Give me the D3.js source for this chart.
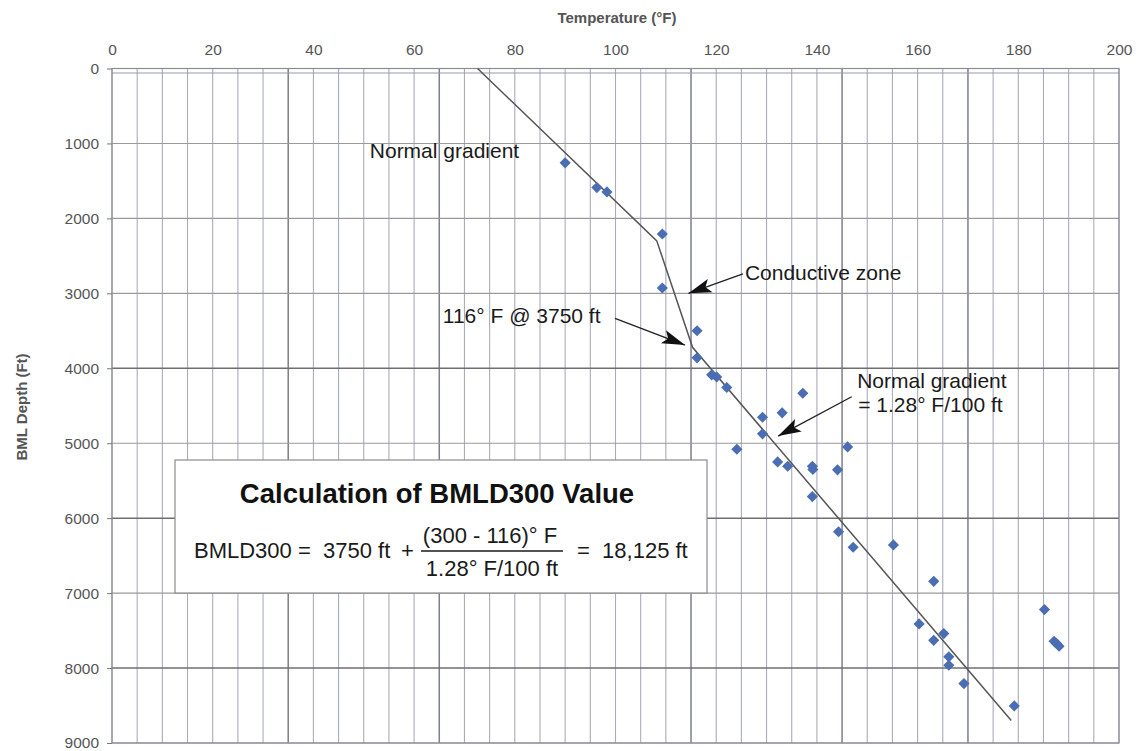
<!DOCTYPE html>
<html>
<head>
<meta charset="utf-8">
<script src="https://cdn.jsdelivr.net/npm/d3@7"></script>
<style>
  body { margin: 0; background: #fff; }
  svg { display: block; font-family: "Liberation Sans", Arial, sans-serif; }
</style>
</head>
<body>
<svg width="1139" height="751"></svg>
<script>
// measured temperatures (F) and BML depths (ft)
var temps = [90.0, 96.3, 98.3, 109.3, 109.3, 116.2, 116.2, 119.1, 120.1, 122.1,
  137.2, 129.2, 133.1, 129.2, 124.1, 146.1, 132.2, 134.2, 139.1, 139.2,
  144.1, 139.1, 144.3, 147.2, 155.2, 163.2, 185.2, 160.3, 163.2, 165.2,
  166.2, 166.2, 169.2, 179.2, 187.1, 187.6, 188.1];
var depths = [1259, 1589, 1647, 2208, 2929, 3500, 3861, 4088, 4115, 4257,
  4333, 4653, 4595, 4875, 5080, 5049, 5249, 5307, 5307, 5351,
  5355, 5712, 6182, 6388, 6357, 6843, 7220, 7411, 7630, 7540,
  7850, 7963, 8207, 8505, 7642, 7673, 7709];

// interpreted gradient line
var lineTemps = [72.6, 108.2, 115.3, 178.6];
var lineDepths = [0, 2300, 3720, 8700];

var xTicks = [0, 20, 40, 60, 80, 100, 120, 140, 160, 180, 200];
var yTicks = [0, 1000, 2000, 3000, 4000, 5000, 6000, 7000, 8000, 9000];
var heavyX = [35, 65, 115, 145, 170];
var heavyY = [4000, 6000, 8000];

var svg = d3.select("svg");

var x = d3.scaleLinear().domain([0, 200]).range([112, 1119]);
var y = d3.scaleLinear().domain([0, 9000]).range([68.5, 743]);

// grid
var grid = svg.append("g").attr("class", "grid");
grid.selectAll("line.v")
  .data(d3.range(0, 201, 5))
  .enter()
  .append("line")
  .attr("x1", d => x(d)).attr("x2", d => x(d))
  .attr("y1", y(0)).attr("y2", y(9000))
  .attr("stroke", d => heavyX.includes(d) ? "#7c7f8c" : "#a9adbb")
  .attr("stroke-width", d => heavyX.includes(d) ? 1.5 : 1.1);

grid.selectAll("line.h")
  .data(yTicks)
  .enter()
  .append("line")
  .attr("x1", x(0)).attr("x2", x(200))
  .attr("y1", d => y(d)).attr("y2", d => y(d))
  .attr("stroke", d => heavyY.includes(d) ? "#6f6f6f" : "#9a9a9a")
  .attr("stroke-width", d => heavyY.includes(d) ? 1.5 : 1.1);

// second rule just under the top edge
grid.append("line")
  .attr("x1", x(0)).attr("x2", x(200))
  .attr("y1", y(60)).attr("y2", y(60))
  .attr("stroke", "#9a9ca8").attr("stroke-width", 1.1);

grid.append("rect")
  .attr("x", x(0)).attr("y", y(0))
  .attr("width", x(200) - x(0)).attr("height", y(9000) - y(0))
  .attr("fill", "none").attr("stroke", "#8a8d99").attr("stroke-width", 1.2);

// axes
var xAxis = svg.append("g")
  .attr("transform", "translate(0," + (y(0) - 14) + ")")
  .call(d3.axisTop(x).tickValues(xTicks).tickSize(0).tickPadding(0));
xAxis.select(".domain").remove();
xAxis.selectAll("text")
  .attr("font-size", 15.5)
  .attr("font-family", "Liberation Sans, Arial, sans-serif")
  .attr("fill", "#555");

var yAxis = svg.append("g")
  .attr("transform", "translate(" + x(0) + ",0)")
  .call(d3.axisLeft(y).tickValues(yTicks).tickFormat(d3.format("d")).tickSize(5).tickPadding(8));
yAxis.select(".domain").remove();
yAxis.selectAll("line").attr("stroke", "#777");
yAxis.selectAll("text")
  .attr("font-size", 15.5)
  .attr("font-family", "Liberation Sans, Arial, sans-serif")
  .attr("fill", "#555");

svg.append("text")
  .attr("x", 617).attr("y", 23)
  .attr("text-anchor", "middle")
  .attr("font-weight", "bold")
  .attr("font-size", 15)
  .attr("fill", "#555")
  .text("Temperature (°F)");

svg.append("text")
  .attr("transform", "translate(27,407) rotate(-90)")
  .attr("text-anchor", "middle")
  .attr("font-weight", "bold")
  .attr("font-size", 15)
  .attr("fill", "#555")
  .text("BML Depth (Ft)");

// gradient line
var linePts = lineTemps.map((t, i) => [t, lineDepths[i]]);
svg.append("path")
  .datum(linePts)
  .attr("fill", "none")
  .attr("stroke", "#555")
  .attr("stroke-width", 1.5)
  .attr("d", d3.line().x(d => x(d[0])).y(d => y(d[1])));

// data points
var pts = temps.map((t, i) => ({ t: t, d: depths[i] }));
svg.append("g")
  .selectAll("path")
  .data(pts)
  .enter()
  .append("path")
  .attr("d", d3.symbol().type(d3.symbolSquare).size(62))
  .attr("transform", d => "translate(" + x(d.t) + "," + y(d.d) + ") rotate(45)")
  .attr("fill", "#4a6db3");

// arrows
svg.append("defs").append("marker")
  .attr("id", "head")
  .attr("markerUnits", "userSpaceOnUse")
  .attr("viewBox", "0 -8 24 16")
  .attr("refX", 23).attr("refY", 0)
  .attr("markerWidth", 24).attr("markerHeight", 16)
  .attr("orient", "auto")
  .append("path")
  .attr("d", "M0,-7L23,0L0,7L5,0Z")
  .attr("fill", "#111");

var arrows = [
  { from: [125.3, 2740], to: [114.5, 3000] },
  { from: [99.9, 3333], to: [113.8, 3690] },
  { from: [146.9, 4380], to: [132.3, 4905] }
];
svg.append("g")
  .selectAll("line")
  .data(arrows)
  .enter()
  .append("line")
  .attr("x1", d => x(d.from[0])).attr("y1", d => y(d.from[1]))
  .attr("x2", d => x(d.to[0])).attr("y2", d => y(d.to[1]))
  .attr("stroke", "#222")
  .attr("stroke-width", 1.4)
  .attr("marker-end", "url(#head)");

var notes = [
  { t: 51.2, d: 1194, text: "Normal gradient" },
  { t: 125.7, d: 2822, text: "Conductive zone" },
  { t: 65.7, d: 3396, text: "116° F @ 3750 ft" },
  { t: 148.0, d: 4264, text: "Normal gradient" },
  { t: 148.2, d: 4584, text: "= 1.28° F/100 ft" }
];
svg.append("g")
  .selectAll("text")
  .data(notes)
  .enter()
  .append("text")
  .attr("x", d => x(d.t)).attr("y", d => y(d.d))
  .attr("font-size", 21)
  .attr("fill", "#1a1a1a")
  .text(d => d.text);

// calculation box
var box = svg.append("g").attr("transform", "translate(175,460)");
box.append("rect")
  .attr("width", 532).attr("height", 133)
  .attr("fill", "#fff")
  .attr("stroke", "#8c8c8c")
  .attr("stroke-width", 1.2);
box.append("text")
  .attr("x", 262).attr("y", 43)
  .attr("text-anchor", "middle")
  .attr("font-weight", "bold")
  .attr("font-size", 27.5)
  .attr("fill", "#111")
  .text("Calculation of BMLD300 Value");

var eq = box.append("g").attr("font-size", 22).attr("fill", "#1a1a1a");
eq.append("text").attr("x", 19).attr("y", 98).attr("xml:space", "preserve")
  .text("BMLD300 =  3750 ft");
eq.append("text").attr("x", 226).attr("y", 98).text("+");
eq.append("text").attr("x", 315).attr("y", 83).attr("text-anchor", "middle")
  .text("(300 - 116)° F");
eq.append("line")
  .attr("x1", 246).attr("x2", 388).attr("y1", 91).attr("y2", 91)
  .attr("stroke", "#1a1a1a").attr("stroke-width", 1.6);
eq.append("text").attr("x", 317).attr("y", 116).attr("text-anchor", "middle")
  .text("1.28° F/100 ft");
eq.append("text").attr("x", 402).attr("y", 98).attr("xml:space", "preserve")
  .text("=  18,125 ft");
</script>
</body>
</html>
